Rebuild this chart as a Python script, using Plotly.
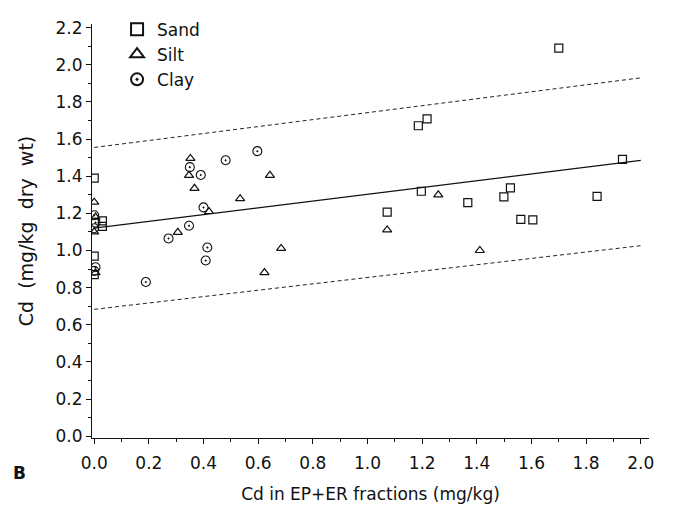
import plotly.graph_objects as go

# --- data ---
sand_x = [0.0, 0.03, 0.03, 0.0, 0.0, 1.70, 1.186, 1.218, 1.933, 1.197, 1.367, 1.523, 1.499, 1.840, 1.072, 1.561, 1.605]
sand_y = [1.39, 1.16, 1.13, 0.97, 0.87, 2.09, 1.672, 1.709, 1.491, 1.319, 1.258, 1.337, 1.289, 1.291, 1.207, 1.168, 1.165]

silt_x = [0.0, 0.005, 0.0, 0.005, 0.352, 0.347, 0.367, 0.643, 0.534, 0.306, 0.684, 0.623, 0.42, 1.259, 1.072, 1.411]
silt_y = [1.26, 1.18, 1.10, 0.88, 1.496, 1.405, 1.335, 1.405, 1.279, 1.098, 1.011, 0.881, 1.21, 1.30, 1.111, 1.00]

clay_x = [0.0, 0.005, 0.0, 0.005, 0.0, 0.597, 0.481, 0.350, 0.390, 0.40, 0.347, 0.272, 0.414, 0.408, 0.189]
clay_y = [1.19, 1.15, 1.12, 0.91, 0.89, 1.535, 1.486, 1.449, 1.407, 1.232, 1.133, 1.065, 1.016, 0.946, 0.83]

fit_x = [0.0, 2.0]
fit_y = [1.12, 1.485]
upper_y = [1.555, 1.93]
lower_y = [0.683, 1.026]

x_ticks = [0.0, 0.2, 0.4, 0.6, 0.8, 1.0, 1.2, 1.4, 1.6, 1.8, 2.0]
y_ticks = [0.0, 0.2, 0.4, 0.6, 0.8, 1.0, 1.2, 1.4, 1.6, 1.8, 2.0, 2.2]

FONT = "DejaVu Sans"
INK = "#111"

fig = go.Figure()

fig.add_trace(go.Scatter(x=fit_x, y=upper_y, mode="lines", showlegend=False,
                         line=dict(color="#222", width=1, dash="4px,3px")))
fig.add_trace(go.Scatter(x=fit_x, y=lower_y, mode="lines", showlegend=False,
                         line=dict(color="#222", width=1, dash="4px,3px")))
fig.add_trace(go.Scatter(x=fit_x, y=fit_y, mode="lines", showlegend=False,
                         line=dict(color=INK, width=1.3)))

fig.add_trace(go.Scatter(x=sand_x, y=sand_y, mode="markers", name="Sand",
                         marker=dict(symbol="square-open", size=8, color=INK,
                                     line=dict(width=1.2, color=INK))))
fig.add_trace(go.Scatter(x=silt_x, y=silt_y, mode="markers", name="Silt",
                         marker=dict(symbol="triangle-up-open", size=8, color=INK,
                                     line=dict(width=1.2, color=INK))))
fig.add_trace(go.Scatter(x=clay_x, y=clay_y, mode="markers", name="Clay",
                         marker=dict(symbol="circle-open-dot", size=9, color=INK,
                                     line=dict(width=1.1, color=INK))))

axis_common = dict(
    showline=True, linecolor=INK, linewidth=1.2,
    ticks="outside", ticklen=5, tickcolor=INK, tickwidth=1,
    showgrid=False, zeroline=False,
    tickfont=dict(family=FONT, size=17, color=INK),
    tickformat=".1f",
    minor=dict(ticks="outside", ticklen=3, tickcolor=INK, dtick=0.1, showgrid=False),
)

fig.update_xaxes(range=[-0.008, 2.03], tickvals=x_ticks, ticklabelstandoff=4, **axis_common,
                 title=dict(text="Cd in EP+ER fractions (mg/kg)",
                            font=dict(family=FONT, size=17, color=INK), standoff=16))
fig.update_yaxes(range=[-0.01, 2.22], tickvals=y_ticks, **axis_common,
                 title=dict(text="Cd\u00a0 (mg/kg\u00a0 dry\u00a0 wt)",
                            font=dict(family=FONT, size=19, color=INK), standoff=16))

fig.add_annotation(text="<b>B</b>", xref="paper", yref="paper", x=-0.145, y=-0.085,
                   showarrow=False, xanchor="left", yanchor="middle",
                   font=dict(family=FONT, size=17, color=INK))

fig.update_layout(
    width=676, height=516,
    margin=dict(l=92, r=27, t=14, b=78),
    paper_bgcolor="white", plot_bgcolor="white",
    legend=dict(x=0.045, y=1.03, xanchor="left", yanchor="top",
                font=dict(family=FONT, size=17, color=INK),
                bgcolor="rgba(0,0,0,0)", itemsizing="constant"),
)

fig.write_html("out.html")
